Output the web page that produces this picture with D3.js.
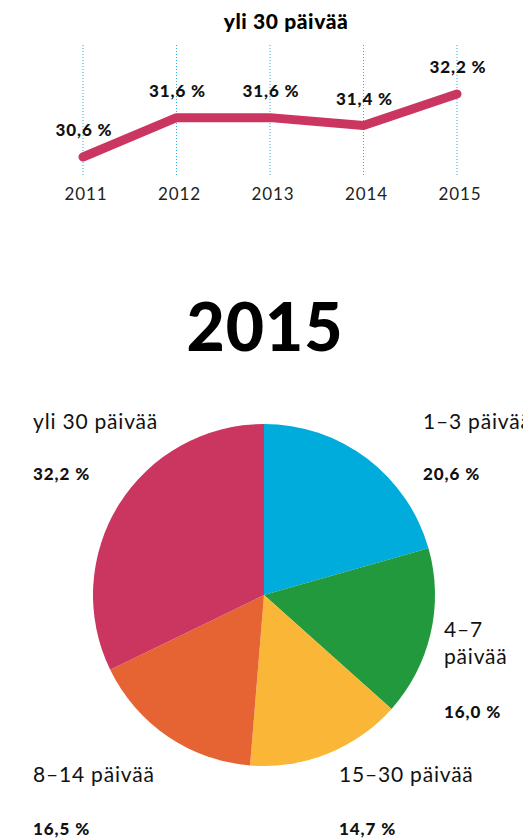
<!DOCTYPE html>
<html>
<head>
<meta charset="utf-8">
<script src="https://cdn.jsdelivr.net/npm/d3@7"></script>
<style>
  html, body { margin: 0; padding: 0; background: #fff; overflow: hidden; }
  svg { display: block; font-family: Lato, "Open Sans", sans-serif; }
</style>
</head>
<body>
<svg id="chart" width="523" height="840"></svg>
<script>

// trend data, share of absences over 30 days
const years = ['2011', '2012', '2013', '2014', '2015'];
const trendValues = [30.6, 31.6, 31.6, 31.4, 32.2];
const trendTitle = 'yli 30 päivää';

// breakdown for 2015
const pieYear = '2015';
const pieCategories = ['1–3 päivää', '4–7 päivää', '15–30 päivää', '8–14 päivää', 'yli 30 päivää'];
const pieValues = [20.6, 16.0, 14.7, 16.5, 32.2];
const pieColors = ['#00acdc', '#23993e', '#f9b637', '#e66333', '#cb3660'];

const fmt = v => d3.format('.1f')(v).replace('.', ',') + ' %';

const svg = d3.select('#chart');


/**
 * Line chart on top.
 */
function drawTrend() {

  const x = d3.scalePoint()
    .domain(years)
    .range([83, 457]);

  const y = d3.scaleLinear()
    .domain([30.6, 32.2])
    .range([157, 94]);

  const g = svg.append('g');

  g.append('text')
    .attr('x', 286)
    .attr('y', 29)
    .attr('text-anchor', 'middle')
    .style('font-size', '21px')
    .style('font-weight', 900)
    .style('letter-spacing', '0.6px')
    .text(trendTitle);

  g.selectAll('line.grid')
    .data(years)
    .join('line')
    .attr('class', 'grid')
    .attr('x1', d => x(d))
    .attr('x2', d => x(d))
    .attr('y1', 45)
    .attr('y2', 176)
    .style('stroke', '#29abe2')
    .style('stroke-width', 1)
    .style('stroke-dasharray', '1,2');

  const line = d3.line()
    .x((d, i) => x(years[i]))
    .y(d => y(d));

  g.append('path')
    .datum(trendValues)
    .attr('d', line)
    .style('fill', 'none')
    .style('stroke', '#cb3660')
    .style('stroke-width', 9)
    .style('stroke-linecap', 'round')
    .style('stroke-linejoin', 'round');

  g.selectAll('text.value')
    .data(trendValues)
    .join('text')
    .attr('class', 'value')
    .attr('x', (d, i) => x(years[i]) + 1)
    .attr('y', d => y(d) - 21)
    .attr('text-anchor', 'middle')
    .style('font-size', '17px')
    .style('font-weight', 900)
    .style('letter-spacing', '0.9px')
    .style('fill', '#111')
    .text(fmt);

  g.selectAll('text.year')
    .data(years)
    .join('text')
    .attr('class', 'year')
    .attr('x', d => x(d) + 3)
    .attr('y', 200)
    .attr('text-anchor', 'middle')
    .style('font-size', '17px')
    .style('letter-spacing', '0.9px')
    .style('fill', '#222')
    .text(d => d);
}


/**
 * Pie chart with labels.
 */
function drawPie() {

  svg.append('text')
    .attr('x', 265)
    .attr('y', 351)
    .attr('text-anchor', 'middle')
    .style('font-size', '66px')
    .style('font-weight', 900)
    .style('letter-spacing', '1px')
    .style('fill', '#000')
    .text(pieYear);

  const cx = 264;
  const cy = 595;
  const r = 171;

  const pie = d3.pie()
    .sort(null)
    .value(d => d);

  const arc = d3.arc()
    .innerRadius(0)
    .outerRadius(r);

  const g = svg.append('g')
    .attr('transform', `translate(${cx},${cy})`);

  g.selectAll('path')
    .data(pie(pieValues))
    .join('path')
    .attr('d', arc)
    .style('fill', (d, i) => pieColors[i]);

  // label anchors per slice: x, name baseline, value baseline
  const labelPos = [
    { x: 423, y: 429, vy: 480 },
    { x: 444, y: 637, vy: 718 },
    { x: 339, y: 782, vy: 835 },
    { x: 33, y: 782, vy: 835 },
    { x: 33, y: 429, vy: 480 }
  ];

  pieCategories.forEach((name, i) => {

    const p = labelPos[i];
    const t = svg.append('text')
      .attr('x', p.x)
      .attr('y', p.y)
      .style('font-size', '21px')
      .style('letter-spacing', '0.8px')
      .style('fill', '#111');

    // the 4–7 label wraps on two lines
    if (i === 1) {
      const parts = name.split(' ');
      t.append('tspan').attr('x', p.x).text(parts[0]);
      t.append('tspan').attr('x', p.x).attr('dy', 27).text(parts[1]);
    } else {
      t.text(name);
    }

    svg.append('text')
      .attr('x', p.x)
      .attr('y', p.vy)
      .style('font-size', '17px')
      .style('font-weight', 900)
      .style('letter-spacing', '0.9px')
      .style('fill', '#111')
      .text(fmt(pieValues[i]));
  });
}


drawTrend();
drawPie();
</script>
</body>
</html>
